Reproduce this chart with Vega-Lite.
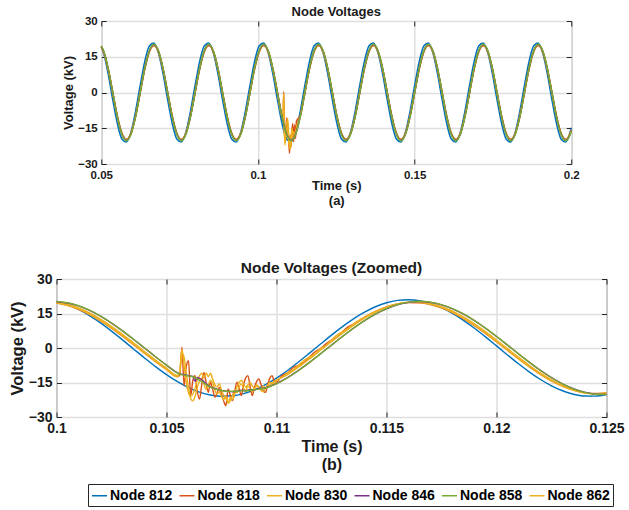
{
"$schema": "https://vega.github.io/schema/vega-lite/v6.json",
"background": "white",
"padding": {"left": 8, "top": 5, "right": 5, "bottom": 2},
"center": true,
"spacing": 52,
"config": {
  "font": "Liberation Sans",
  "view": {"stroke": "#262626", "strokeWidth": 1},
  "axis": {"domain": false, "labelFontWeight": "bold", "titleFontWeight": "bold", "labelColor": "#1a1a1a", "titleColor": "#1a1a1a", "gridColor": "#dedede", "gridWidth": 1.5, "tickColor": "#262626", "tickSize": -5, "tickWidth": 1, "labelFlush": false},
  "title": {"fontWeight": "bold", "color": "#1a1a1a", "anchor": "middle"},
  "legend": {"orient": "none", "legendX": 32, "legendY": 463, "direction": "horizontal", "title": null, "symbolType": "stroke", "symbolSize": 225, "symbolStrokeWidth": 1.5, "labelFontSize": 14, "labelFontWeight": "bold", "labelColor": "#000000", "labelOffset": 2, "columnPadding": 3.5, "padding": 3, "strokeColor": "#262626", "fillColor": "white", "labelLimit": 200}
},
"datasets": {
"top": [
{"t":0.05,"812":19.33,"818":18.95,"830":19.14,"846":19.34,"858":19.53,"862":19.14},
{"t":0.05074,"812":16.51,"818":16.97,"830":17.15,"846":17.32,"858":17.49,"862":17.15},
{"t":0.0522,"812":7.79,"818":9.8,"830":9.9,"846":10,"858":10.1,"862":9.9},
{"t":0.05366,"812":-3,"818":0,"830":0,"846":0,"858":0,"862":0},
{"t":0.05512,"812":-12.98,"818":-9.8,"830":-9.9,"846":-10,"858":-10.1,"862":-9.9},
{"t":0.05658,"812":-19.49,"818":-16.97,"830":-17.15,"846":-17.32,"858":-17.49,"862":-17.15},
{"t":0.05804,"812":-20.79,"818":-19.6,"830":-19.8,"846":-20,"858":-20.2,"862":-19.8},
{"t":0.0595,"812":-16.51,"818":-16.97,"830":-17.15,"846":-17.32,"858":-17.49,"862":-17.15},
{"t":0.06096,"812":-7.79,"818":-9.8,"830":-9.9,"846":-10,"858":-10.1,"862":-9.9},
{"t":0.06242,"812":3,"818":0,"830":0,"846":0,"858":0,"862":0},
{"t":0.06388,"812":12.98,"818":9.8,"830":9.9,"846":10,"858":10.1,"862":9.9},
{"t":0.06534,"812":19.49,"818":16.97,"830":17.15,"846":17.32,"858":17.49,"862":17.15},
{"t":0.0668,"812":20.79,"818":19.6,"830":19.8,"846":20,"858":20.2,"862":19.8},
{"t":0.06826,"812":16.51,"818":16.97,"830":17.15,"846":17.32,"858":17.49,"862":17.15},
{"t":0.06972,"812":7.79,"818":9.8,"830":9.9,"846":10,"858":10.1,"862":9.9},
{"t":0.07118,"812":-3,"818":0,"830":0,"846":0,"858":0,"862":0},
{"t":0.07264,"812":-12.98,"818":-9.8,"830":-9.9,"846":-10,"858":-10.1,"862":-9.9},
{"t":0.0741,"812":-19.49,"818":-16.97,"830":-17.15,"846":-17.32,"858":-17.49,"862":-17.15},
{"t":0.07556,"812":-20.79,"818":-19.6,"830":-19.8,"846":-20,"858":-20.2,"862":-19.8},
{"t":0.07702,"812":-16.51,"818":-16.97,"830":-17.15,"846":-17.32,"858":-17.49,"862":-17.15},
{"t":0.07848,"812":-7.79,"818":-9.8,"830":-9.9,"846":-10,"858":-10.1,"862":-9.9},
{"t":0.07994,"812":3,"818":0,"830":0,"846":0,"858":0,"862":0},
{"t":0.0814,"812":12.98,"818":9.8,"830":9.9,"846":10,"858":10.1,"862":9.9},
{"t":0.08286,"812":19.49,"818":16.97,"830":17.15,"846":17.32,"858":17.49,"862":17.15},
{"t":0.08432,"812":20.79,"818":19.6,"830":19.8,"846":20,"858":20.2,"862":19.8},
{"t":0.08578,"812":16.51,"818":16.97,"830":17.15,"846":17.32,"858":17.49,"862":17.15},
{"t":0.08724,"812":7.79,"818":9.8,"830":9.9,"846":10,"858":10.1,"862":9.9},
{"t":0.0887,"812":-3,"818":0,"830":0,"846":0,"858":0,"862":0},
{"t":0.09016,"812":-12.98,"818":-9.8,"830":-9.9,"846":-10,"858":-10.1,"862":-9.9},
{"t":0.09162,"812":-19.49,"818":-16.97,"830":-17.15,"846":-17.32,"858":-17.49,"862":-17.15},
{"t":0.09308,"812":-20.79,"818":-19.6,"830":-19.8,"846":-20,"858":-20.2,"862":-19.8},
{"t":0.09454,"812":-16.51,"818":-16.97,"830":-17.15,"846":-17.32,"858":-17.49,"862":-17.15},
{"t":0.096,"812":-7.79,"818":-9.8,"830":-9.9,"846":-10,"858":-10.1,"862":-9.9},
{"t":0.09746,"812":3,"818":0,"830":0,"846":0,"858":0,"862":0},
{"t":0.09892,"812":12.98,"818":9.8,"830":9.9,"846":10,"858":10.1,"862":9.9},
{"t":0.10038,"812":19.49,"818":16.97,"830":17.15,"846":17.32,"858":17.49,"862":17.15},
{"t":0.10184,"812":20.79,"818":19.6,"830":19.8,"846":20,"858":20.2,"862":19.8},
{"t":0.1033,"812":16.51,"818":16.97,"830":17.15,"846":17.32,"858":17.49,"862":17.15},
{"t":0.10476,"812":7.79,"818":9.8,"830":9.9,"846":10,"858":10.1,"862":9.9},
{"t":0.10622,"812":-3,"818":0,"830":0,"846":0,"858":0,"862":0},
{"t":0.10768,"812":-12.98,"818":-9.8,"830":-9.9,"846":-10,"858":-10.1,"862":-9.9},
{"t":0.1081,"818":-12,"830":-10,"862":-11},
{"t":0.1082,"818":0.3,"830":-0.5,"862":-2},
{"t":0.1084,"818":-8,"830":-15,"862":-11},
{"t":0.1086,"818":-20.7,"830":-21,"862":-22},
{"t":0.1089,"818":-19,"830":-14,"862":-17},
{"t":0.10914,"812":-19.49,"846":-17.32,"858":-17.49},
{"t":0.1092,"818":-10.6,"830":-13,"862":-15.5},
{"t":0.1095,"818":-14.9,"830":-11,"862":-14},
{"t":0.1098,"818":-19.5,"830":-17,"862":-20},
{"t":0.1101,"818":-25.5,"830":-20.5,"862":-22.5},
{"t":0.1103,"818":-17.8,"830":-23.5,"862":-24},
{"t":0.1105,"818":-22.9,"830":-22.5,"862":-20.5},
{"t":0.1106,"812":-20.79,"846":-20,"858":-20.2},
{"t":0.1108,"818":-17.5,"830":-15,"862":-17},
{"t":0.1111,"818":-13,"830":-17,"862":-18.5},
{"t":0.1114,"818":-20.7,"830":-16.5,"862":-19},
{"t":0.1117,"818":-13.5,"830":-17.5,"862":-17},
{"t":0.112,"818":-19.3,"830":-17.5,"862":-17.5},
{"t":0.11206,"812":-16.51,"846":-17.32,"858":-17.49},
{"t":0.1123,"818":-12,"830":-15.5,"862":-15},
{"t":0.11352,"812":-7.79,"818":-9.8,"830":-9.9,"846":-10,"858":-10.1,"862":-9.9},
{"t":0.11498,"812":3,"818":0,"830":0,"846":0,"858":0,"862":0},
{"t":0.11644,"812":12.98,"818":9.8,"830":9.9,"846":10,"858":10.1,"862":9.9},
{"t":0.1179,"812":19.49,"818":16.97,"830":17.15,"846":17.32,"858":17.49,"862":17.15},
{"t":0.11936,"812":20.79,"818":19.6,"830":19.8,"846":20,"858":20.2,"862":19.8},
{"t":0.12082,"812":16.51,"818":16.97,"830":17.15,"846":17.32,"858":17.49,"862":17.15},
{"t":0.12228,"812":7.79,"818":9.8,"830":9.9,"846":10,"858":10.1,"862":9.9},
{"t":0.12374,"812":-3,"818":0,"830":0,"846":0,"858":0,"862":0},
{"t":0.1252,"812":-12.98,"818":-9.8,"830":-9.9,"846":-10,"858":-10.1,"862":-9.9},
{"t":0.12666,"812":-19.49,"818":-16.97,"830":-17.15,"846":-17.32,"858":-17.49,"862":-17.15},
{"t":0.12812,"812":-20.79,"818":-19.6,"830":-19.8,"846":-20,"858":-20.2,"862":-19.8},
{"t":0.12958,"812":-16.51,"818":-16.97,"830":-17.15,"846":-17.32,"858":-17.49,"862":-17.15},
{"t":0.13104,"812":-7.79,"818":-9.8,"830":-9.9,"846":-10,"858":-10.1,"862":-9.9},
{"t":0.1325,"812":3,"818":0,"830":0,"846":0,"858":0,"862":0},
{"t":0.13396,"812":12.98,"818":9.8,"830":9.9,"846":10,"858":10.1,"862":9.9},
{"t":0.13542,"812":19.49,"818":16.97,"830":17.15,"846":17.32,"858":17.49,"862":17.15},
{"t":0.13688,"812":20.79,"818":19.6,"830":19.8,"846":20,"858":20.2,"862":19.8},
{"t":0.13834,"812":16.51,"818":16.97,"830":17.15,"846":17.32,"858":17.49,"862":17.15},
{"t":0.1398,"812":7.79,"818":9.8,"830":9.9,"846":10,"858":10.1,"862":9.9},
{"t":0.14126,"812":-3,"818":0,"830":0,"846":0,"858":0,"862":0},
{"t":0.14272,"812":-12.98,"818":-9.8,"830":-9.9,"846":-10,"858":-10.1,"862":-9.9},
{"t":0.14418,"812":-19.49,"818":-16.97,"830":-17.15,"846":-17.32,"858":-17.49,"862":-17.15},
{"t":0.14564,"812":-20.79,"818":-19.6,"830":-19.8,"846":-20,"858":-20.2,"862":-19.8},
{"t":0.1471,"812":-16.51,"818":-16.97,"830":-17.15,"846":-17.32,"858":-17.49,"862":-17.15},
{"t":0.14856,"812":-7.79,"818":-9.8,"830":-9.9,"846":-10,"858":-10.1,"862":-9.9},
{"t":0.15002,"812":3,"818":0,"830":0,"846":0,"858":0,"862":0},
{"t":0.15148,"812":12.98,"818":9.8,"830":9.9,"846":10,"858":10.1,"862":9.9},
{"t":0.15294,"812":19.49,"818":16.97,"830":17.15,"846":17.32,"858":17.49,"862":17.15},
{"t":0.1544,"812":20.79,"818":19.6,"830":19.8,"846":20,"858":20.2,"862":19.8},
{"t":0.15586,"812":16.51,"818":16.97,"830":17.15,"846":17.32,"858":17.49,"862":17.15},
{"t":0.15732,"812":7.79,"818":9.8,"830":9.9,"846":10,"858":10.1,"862":9.9},
{"t":0.15878,"812":-3,"818":0,"830":0,"846":0,"858":0,"862":0},
{"t":0.16024,"812":-12.98,"818":-9.8,"830":-9.9,"846":-10,"858":-10.1,"862":-9.9},
{"t":0.1617,"812":-19.49,"818":-16.97,"830":-17.15,"846":-17.32,"858":-17.49,"862":-17.15},
{"t":0.16316,"812":-20.79,"818":-19.6,"830":-19.8,"846":-20,"858":-20.2,"862":-19.8},
{"t":0.16462,"812":-16.51,"818":-16.97,"830":-17.15,"846":-17.32,"858":-17.49,"862":-17.15},
{"t":0.16608,"812":-7.79,"818":-9.8,"830":-9.9,"846":-10,"858":-10.1,"862":-9.9},
{"t":0.16754,"812":3,"818":0,"830":0,"846":0,"858":0,"862":0},
{"t":0.169,"812":12.98,"818":9.8,"830":9.9,"846":10,"858":10.1,"862":9.9},
{"t":0.17046,"812":19.49,"818":16.97,"830":17.15,"846":17.32,"858":17.49,"862":17.15},
{"t":0.17192,"812":20.79,"818":19.6,"830":19.8,"846":20,"858":20.2,"862":19.8},
{"t":0.17338,"812":16.51,"818":16.97,"830":17.15,"846":17.32,"858":17.49,"862":17.15},
{"t":0.17484,"812":7.79,"818":9.8,"830":9.9,"846":10,"858":10.1,"862":9.9},
{"t":0.1763,"812":-3,"818":0,"830":0,"846":0,"858":0,"862":0},
{"t":0.17776,"812":-12.98,"818":-9.8,"830":-9.9,"846":-10,"858":-10.1,"862":-9.9},
{"t":0.17922,"812":-19.49,"818":-16.97,"830":-17.15,"846":-17.32,"858":-17.49,"862":-17.15},
{"t":0.18068,"812":-20.79,"818":-19.6,"830":-19.8,"846":-20,"858":-20.2,"862":-19.8},
{"t":0.18214,"812":-16.51,"818":-16.97,"830":-17.15,"846":-17.32,"858":-17.49,"862":-17.15},
{"t":0.1836,"812":-7.79,"818":-9.8,"830":-9.9,"846":-10,"858":-10.1,"862":-9.9},
{"t":0.18506,"812":3,"818":0,"830":0,"846":0,"858":0,"862":0},
{"t":0.18652,"812":12.98,"818":9.8,"830":9.9,"846":10,"858":10.1,"862":9.9},
{"t":0.18798,"812":19.49,"818":16.97,"830":17.15,"846":17.32,"858":17.49,"862":17.15},
{"t":0.18944,"812":20.79,"818":19.6,"830":19.8,"846":20,"858":20.2,"862":19.8},
{"t":0.1909,"812":16.51,"818":16.97,"830":17.15,"846":17.32,"858":17.49,"862":17.15},
{"t":0.19236,"812":7.79,"818":9.8,"830":9.9,"846":10,"858":10.1,"862":9.9},
{"t":0.19382,"812":-3,"818":0,"830":0,"846":0,"858":0,"862":0},
{"t":0.19528,"812":-12.98,"818":-9.8,"830":-9.9,"846":-10,"858":-10.1,"862":-9.9},
{"t":0.19674,"812":-19.49,"818":-16.97,"830":-17.15,"846":-17.32,"858":-17.49,"862":-17.15},
{"t":0.1982,"812":-20.79,"818":-19.6,"830":-19.8,"846":-20,"858":-20.2,"862":-19.8},
{"t":0.19966,"812":-16.51,"818":-16.97,"830":-17.15,"846":-17.32,"858":-17.49,"862":-17.15},
{"t":0.2,"812":-14.8,"818":-15.65,"830":-15.81,"846":-15.97,"858":-16.13,"862":-15.81}
],
"bottom": [
{"t":0.1,"812":20.24,"818":19.49,"830":19.59,"846":20.16,"858":20.26,"862":19.81},
{"t":0.1005,"812":18.83,"818":18.5,"830":18.59,"846":19.57,"858":19.66,"862":18.94},
{"t":0.101,"812":16.75,"818":16.85,"830":16.93,"846":18.28,"858":18.37,"862":17.4},
{"t":0.1015,"812":14.08,"818":14.6,"830":14.67,"846":16.34,"858":16.42,"862":15.25},
{"t":0.102,"812":10.92,"818":11.83,"830":11.89,"846":13.83,"858":13.9,"862":12.55},
{"t":0.1025,"812":7.36,"818":8.65,"830":8.7,"846":10.82,"858":10.88,"862":9.41},
{"t":0.103,"812":3.55,"818":5.16,"830":5.19,"846":7.44,"858":7.47,"862":5.94},
{"t":0.1035,"812":-0.4,"818":1.49,"830":1.5,"846":3.79,"858":3.8,"862":2.26},
{"t":0.104,"812":-4.32,"818":-2.24,"830":-2.25,"846":0,"858":0,"862":-1.51},
{"t":0.1045,"812":-8.1,"818":-5.88,"830":-5.91,"846":-3.79,"858":-3.8,"862":-5.22},
{"t":0.105,"812":-11.58,"818":-9.32,"830":-9.37,"846":-7.44,"858":-7.47,"862":-8.74},
{"t":0.1055,"812":-14.66,"818":-12.43,"830":-12.49,"846":-10.82,"858":-10.88,"862":-11.95},
{"t":0.1056,"818":-12,"830":-10,"862":-11,"846":-11.3,"858":-11.4},
{"t":0.1057,"818":0.3,"830":-0.5,"862":-2},
{"t":0.1058,"818":-16.4,"830":-8,"862":-4,"846":-11.6,"858":-11.8},
{"t":0.1059,"818":-8,"830":-15,"862":-11},
{"t":0.106,"818":-5.5,"830":-19.5,"862":-17,"846":-12,"858":-12.2,"812":-17.22},
{"t":0.1061,"818":-20.7,"830":-21,"862":-22},
{"t":0.1062,"818":-14,"830":-20,"862":-23,"846":-12.4,"858":-12.5},
{"t":0.1063,"818":-12,"830":-17.5,"862":-21,"846":-14.5},
{"t":0.1064,"818":-19,"830":-14,"862":-17,"846":-12.8,"858":-13.4},
{"t":0.1065,"818":-22.2,"830":-12,"862":-14.5,"812":-19.17},
{"t":0.1066,"818":-16,"830":-11,"862":-13,"846":-13.8,"858":-14.6},
{"t":0.1067,"818":-10.6,"830":-13,"862":-15.5},
{"t":0.1068,"818":-15,"830":-10.8,"862":-18,"846":-15.5,"858":-15.9},
{"t":0.1069,"818":-19.3,"830":-12.5,"862":-16},
{"t":0.107,"818":-14.9,"830":-11,"862":-14,"846":-17,"858":-17,"812":-20.44},
{"t":0.1071,"818":-18,"830":-13.5,"862":-15},
{"t":0.1072,"818":-21.4,"830":-16,"862":-18.5,"846":-17.6,"858":-17.8},
{"t":0.1073,"818":-19.5,"830":-17,"862":-20},
{"t":0.1074,"818":-17.1,"830":-15.5,"862":-19,"846":-18.3,"858":-18.3},
{"t":0.1075,"818":-20,"830":-18.5,"862":-21,"812":-20.98},
{"t":0.1076,"818":-23,"830":-20.5,"862":-22.5,"846":-18.6,"858":-18.7},
{"t":0.1077,"818":-25.1,"830":-22,"862":-21},
{"t":0.1078,"818":-17.8,"830":-23.5,"862":-24,"846":-18.8,"858":-18.9},
{"t":0.1079,"818":-20.5,"830":-21.5,"862":-23},
{"t":0.108,"818":-22.9,"830":-22.5,"862":-20.5,"846":-19,"858":-18.8,"812":-20.78},
{"t":0.1081,"818":-19,"830":-20,"862":-18.5},
{"t":0.1082,"818":-14.9,"830":-17,"862":-19.5,"846":-18.8,"858":-18.9},
{"t":0.1083,"818":-17.5,"830":-15,"862":-17},
{"t":0.1084,"818":-20.7,"830":-14,"862":-15.5,"846":-18.4,"858":-18.6},
{"t":0.1085,"818":-16,"830":-15.5,"862":-17.5,"812":-19.85},
{"t":0.1086,"818":-13,"830":-17,"862":-18.5,"846":-18.6,"858":-18.7},
{"t":0.1087,"818":-12,"830":-16,"862":-16.5},
{"t":0.1088,"818":-16.5,"830":-15,"862":-17.5,"846":-18,"858":-18.3},
{"t":0.1089,"818":-20.7,"830":-16.5,"862":-19},
{"t":0.109,"818":-17,"830":-17.5,"862":-18,"846":-18.2,"858":-18.2,"812":-18.21},
{"t":0.1091,"818":-14.5,"830":-16.5,"862":-16},
{"t":0.1092,"818":-13.5,"830":-17.5,"862":-17,"846":-17.6,"858":-17.9},
{"t":0.1093,"818":-16,"830":-18,"862":-18.5},
{"t":0.1094,"818":-18.5,"830":-16.5,"862":-19,"846":-17.5,"858":-17.6},
{"t":0.1095,"818":-19.3,"830":-17.5,"862":-17.5,"812":-15.92},
{"t":0.1096,"818":-16,"830":-16,"862":-16.5,"846":-16.9,"858":-17.1},
{"t":0.1097,"818":-13,"830":-15,"862":-16},
{"t":0.1098,"818":-12,"830":-15.5,"862":-15,"846":-16.2,"858":-16.4},
{"t":0.1099,"818":-14.5,"830":-14.5,"862":-15.5},
{"t":0.11,"812":-13.08,"818":-14.8,"830":-13.8,"846":-15.5,"858":-15.6,"862":-14.4},
{"t":0.11025,"818":-12,"830":-12.8},
{"t":0.1105,"812":-9.77,"818":-10.82,"830":-10.87,"846":-12.88,"858":-12.94,"862":-11.55},
{"t":0.11075,"818":-8.6,"830":-9.6},
{"t":0.111,"812":-6.11,"818":-7.52,"830":-7.56,"846":-9.73,"858":-9.78,"862":-8.29},
{"t":0.11125,"818":-6.2,"830":-5.3},
{"t":0.1115,"812":-2.24,"818":-3.95,"830":-3.97,"846":-6.24,"858":-6.27,"862":-4.73},
{"t":0.11175,"818":-1.6,"830":-2.6},
{"t":0.112,"812":1.71,"818":-0.25,"830":-0.25,"846":-2.53,"858":-2.54,"862":-1},
{"t":0.11225,"818":1.8,"830":1},
{"t":0.1125,"812":5.61,"818":3.47,"830":3.48,"846":1.27,"858":1.27,"862":2.76},
{"t":0.11275,"818":4.7,"830":5.6},
{"t":0.113,"812":9.3,"818":7.06,"830":7.09,"846":5.02,"858":5.05,"862":6.42},
{"t":0.11325,"818":9.2,"830":8.4},
{"t":0.1135,"812":12.66,"818":10.4,"830":10.45,"846":8.6,"858":8.64,"862":9.86},
{"t":0.114,"812":15.57,"818":13.37,"830":13.44,"846":11.87,"858":11.93,"862":12.94},
{"t":0.1145,"812":17.94,"818":15.87,"830":15.95,"846":14.73,"858":14.8,"862":15.57},
{"t":0.115,"812":19.67,"818":17.81,"830":17.9,"846":17.05,"858":17.14,"862":17.65},
{"t":0.1155,"812":20.7,"818":19.11,"830":19.21,"846":18.78,"858":18.87,"862":19.1},
{"t":0.116,"812":21,"818":19.74,"830":19.84,"846":19.84,"858":19.94,"862":19.87},
{"t":0.1165,"812":20.55,"818":19.67,"830":19.77,"846":20.2,"858":20.3,"862":19.94},
{"t":0.117,"812":19.38,"818":18.91,"830":19,"846":19.84,"858":19.94,"862":19.31},
{"t":0.1175,"812":17.52,"818":17.47,"830":17.56,"846":18.78,"858":18.87,"862":17.99},
{"t":0.118,"812":15.03,"818":15.42,"830":15.49,"846":17.05,"858":17.14,"862":16.03},
{"t":0.1185,"812":12.02,"818":12.81,"830":12.87,"846":14.73,"858":14.8,"862":13.51},
{"t":0.119,"812":8.58,"818":9.76,"830":9.8,"846":11.87,"858":11.93,"862":10.5},
{"t":0.1195,"812":4.84,"818":6.35,"830":6.39,"846":8.6,"858":8.64,"862":7.13},
{"t":0.12,"812":0.92,"818":2.73,"830":2.74,"846":5.02,"858":5.05,"862":3.5},
{"t":0.1205,"812":-3.02,"818":-0.99,"830":-1,"846":1.27,"858":1.27,"862":-0.25},
{"t":0.121,"812":-6.86,"818":-4.68,"830":-4.71,"846":-2.53,"858":-2.54,"862":-3.99},
{"t":0.1215,"812":-10.46,"818":-8.21,"830":-8.25,"846":-6.24,"858":-6.27,"862":-7.59},
{"t":0.122,"812":-13.69,"818":-11.44,"830":-11.49,"846":-9.73,"858":-9.78,"862":-10.93},
{"t":0.1225,"812":-16.43,"818":-14.26,"830":-14.33,"846":-12.88,"858":-12.94,"862":-13.87},
{"t":0.123,"812":-18.59,"818":-16.58,"830":-16.67,"846":-15.56,"858":-15.64,"862":-16.33},
{"t":0.1235,"812":-20.09,"818":-18.32,"830":-18.41,"846":-17.7,"858":-17.79,"862":-18.2},
{"t":0.124,"812":-20.88,"818":-19.4,"830":-19.5,"846":-19.21,"858":-19.31,"862":-19.43},
{"t":0.1245,"812":-20.93,"818":-19.8,"830":-19.9,"846":-20.04,"858":-20.14,"862":-19.97},
{"t":0.125,"812":-20.24,"818":-19.49,"830":-19.59,"846":-20.16,"858":-20.26,"862":-19.81}
]
},
"vconcat": [
{
  "width": 470, "height": 143,
  "title": {"text": "Node Voltages", "fontSize": 13, "offset": -4},
  "data": {"name": "top"},
  "transform": [{"fold": ["812","818","830","862","846","858"], "as": ["node","v"]}, {"filter": "isValid(datum.v)"}],
  "layer": [
    {
      "mark": {"type": "line", "strokeWidth": 1.5, "interpolate": "monotone"},
      "encoding": {
        "x": {"field": "t", "type": "quantitative", "scale": {"domain": [0.05, 0.2], "nice": false, "zero": false},
              "axis": {"values": [0.05, 0.1, 0.15, 0.2], "format": "~g", "title": ["Time (s)", "(a)"], "titleFontSize": 13, "labelFontSize": 11.5, "labelPadding": 10, "titlePadding": -1, "titleLineHeight": 15}},
        "y": {"field": "v", "type": "quantitative", "scale": {"domain": [-30, 30], "nice": false},
              "axis": {"values": [-30, -15, 0, 15, 30], "title": "Voltage (kV)", "titleFontSize": 13, "labelFontSize": 11.5, "labelPadding": 9, "titlePadding": 2}},
        "color": {"field": "node", "type": "nominal",
                  "scale": {"domain": ["812","818","830","846","858","862"], "range": ["#0072BD","#D95319","#EDB120","#7E2F8E","#77AC30","#EDB120"]},
                  "legend": {"labelExpr": "'Node ' + datum.label"}}
      }
    },
    {
      "mark": {"type": "line", "opacity": 0},
      "encoding": {
        "x": {"field": "t", "type": "quantitative", "axis": {"orient": "top", "values": [0.05, 0.1, 0.15, 0.2], "labels": false, "title": null, "grid": false}},
        "y": {"field": "v", "type": "quantitative", "axis": {"orient": "right", "values": [-30, -15, 0, 15, 30], "labels": false, "title": null, "grid": false}}
      }
    }
  ],
  "resolve": {"axis": {"x": "independent", "y": "independent"}}
},
{
  "width": 550, "height": 138,
  "title": {"text": "Node Voltages (Zoomed)", "fontSize": 15.5, "offset": -4},
  "data": {"name": "bottom"},
  "transform": [{"fold": ["812","818","830","862","846","858"], "as": ["node","v"]}, {"filter": "isValid(datum.v)"}],
  "layer": [
    {
      "mark": {"type": "line", "strokeWidth": 1.4, "interpolate": "monotone"},
      "encoding": {
        "x": {"field": "t", "type": "quantitative", "scale": {"domain": [0.1, 0.125], "nice": false, "zero": false},
              "axis": {"values": [0.1, 0.105, 0.11, 0.115, 0.12, 0.125], "format": "~g", "title": ["Time (s)", "(b)"], "titleFontSize": 16, "labelFontSize": 14, "labelPadding": 9, "titlePadding": 3, "titleLineHeight": 18}},
        "y": {"field": "v", "type": "quantitative", "scale": {"domain": [-30, 30], "nice": false},
              "axis": {"values": [-30, -15, 0, 15, 30], "title": "Voltage (kV)", "titleFontSize": 16.5, "labelFontSize": 14, "labelPadding": 9.5, "titlePadding": 3}},
        "color": {"field": "node", "type": "nominal",
                  "scale": {"domain": ["812","818","830","846","858","862"], "range": ["#0072BD","#D95319","#EDB120","#7E2F8E","#77AC30","#EDB120"]},
                  "legend": {"labelExpr": "'Node ' + datum.label"}}
      }
    },
    {
      "mark": {"type": "line", "opacity": 0},
      "encoding": {
        "x": {"field": "t", "type": "quantitative", "axis": {"orient": "top", "values": [0.1, 0.105, 0.11, 0.115, 0.12, 0.125], "labels": false, "title": null, "grid": false}},
        "y": {"field": "v", "type": "quantitative", "axis": {"orient": "right", "values": [-30, -15, 0, 15, 30], "labels": false, "title": null, "grid": false}}
      }
    }
  ],
  "resolve": {"axis": {"x": "independent", "y": "independent"}}
}
]
}
